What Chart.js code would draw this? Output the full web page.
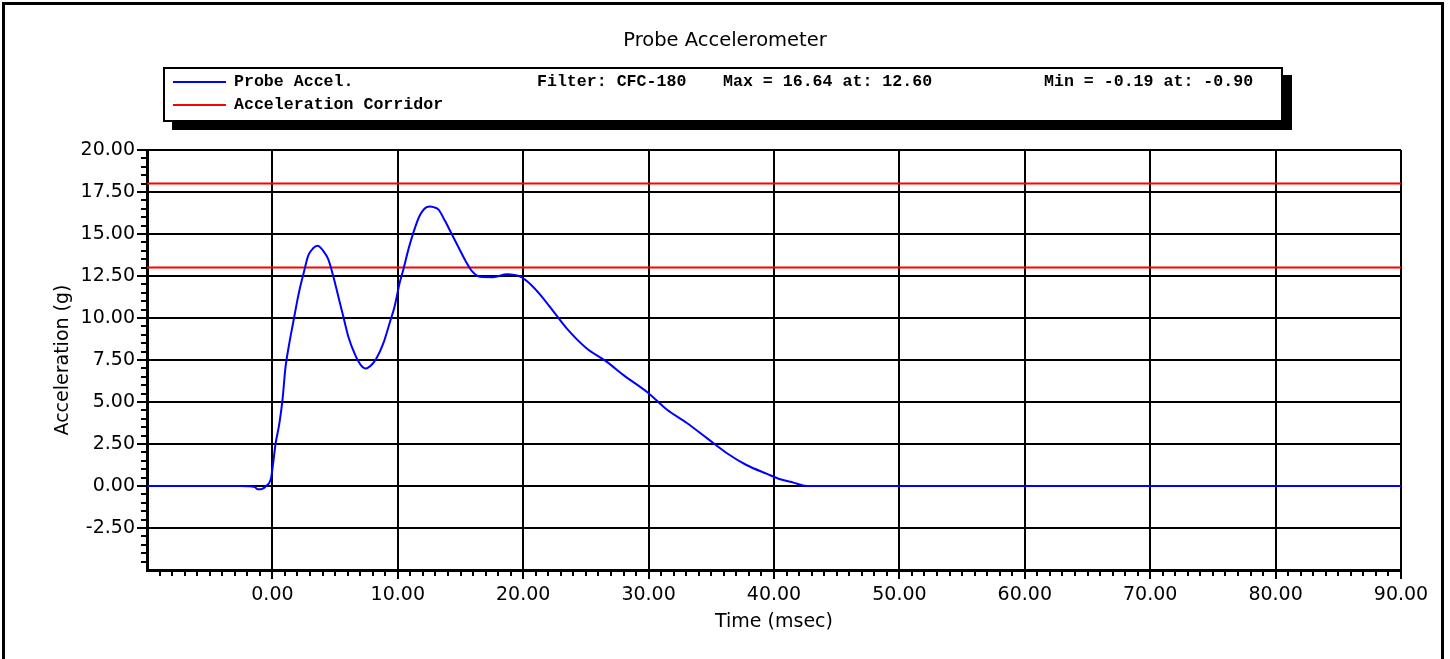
<!DOCTYPE html>
<html>
<head>
<meta charset="utf-8">
<title>Probe Accelerometer</title>
<script src="https://cdn.jsdelivr.net/npm/chart.js@4.4.1/dist/chart.umd.min.js"></script>
<style>
    body { margin: 0; background: #fff; overflow: hidden; }
    #wrap { position: relative; width: 1450px; height: 659px; }
    #frame {
        position: absolute; left: 2px; top: 2px; width: 1436px; height: 700px;
        border-left: 3px solid #000; border-top: 3px solid #000; border-right: 3px solid #000;
    }
    #legend {
        position: absolute; left: 163px; top: 67px; width: 1120px; height: 55px;
        box-sizing: border-box; border: 2px solid #000; background: #fff;
        box-shadow: 9px 8px 0 #000;
        font-family: "Liberation Mono", "Courier New", monospace; font-weight: bold;
        font-size: 16.6px; line-height: 18px; color: #000;
    }
    #legend span { position: absolute; white-space: pre; }
    #legend .swatch { position: absolute; left: 8px; width: 53px; height: 2px; }
</style>
</head>
<body>
<div id="wrap">
    <canvas id="accelChart"></canvas>
    <div id="frame"></div>
    <div id="legend">
        <div class="swatch" style="top:12px; background:#0000ff"></div>
        <span style="left:69px; top:4px">Probe Accel.</span>
        <span style="left:372px; top:4px">Filter: CFC-180</span>
        <span style="left:558px; top:4px">Max = 16.64 at: 12.60</span>
        <span style="left:879px; top:4px">Min = -0.19 at: -0.90</span>
        <div class="swatch" style="top:35px; background:#ff0000"></div>
        <span style="left:69px; top:27px">Acceleration Corridor</span>
    </div>
</div>
<script>
// Probe acceleration trace (time in msec, acceleration in g)
const timeMs = [-10, -2.6, -1.4, -1.2, -0.9, -0.5, -0.1, 0.05, 0.25, 0.55, 0.8, 1.05, 1.35, 1.65, 1.95,
    2.2, 2.5, 2.85, 3.25, 3.6, 4.05, 4.45, 4.85, 5.25, 5.65, 6.05, 6.6, 7.05, 7.45, 7.9, 8.3, 8.85,
    9.35, 9.75, 10.15, 10.45, 10.85, 11.25, 11.75, 12.3, 12.6, 12.85, 13.25, 13.75, 14.3, 14.85, 15.4,
    15.9, 16.55, 17.6, 18.7, 19.8, 20.6, 21.4, 22.5, 23.45, 25.05, 26.65, 28.0, 29.95, 31.45, 33.05,
    34.65, 36.25, 37.8, 39.45, 40.5, 41.55, 42.6, 90];
const accelG = [0, 0, -0.06, -0.19, -0.19, 0, 0.5, 1.3, 2.5, 3.7, 5.1, 7.1, 8.5, 9.7, 10.9,
    11.8, 12.7, 13.7, 14.15, 14.3, 14.0, 13.5, 12.5, 11.3, 10.1, 8.9, 7.8, 7.2, 7.0, 7.2, 7.6, 8.5,
    9.7, 10.7, 12.1, 12.9, 14.1, 15.1, 16.1, 16.6, 16.64, 16.6, 16.45, 15.8, 15.0, 14.2, 13.4,
    12.8, 12.45, 12.43, 12.6, 12.45, 12.0, 11.35, 10.3, 9.4, 8.2, 7.4, 6.6, 5.55, 4.55, 3.75,
    2.85, 1.95, 1.25, 0.72, 0.4, 0.2, 0, 0];

// Acceleration corridor limits
const corridorTime = [-10, 90];
const corridorUpper = [18, 18];
const corridorLower = [13, 13];

// Axis ranges
const xRange = [-10, 90];
const yRange = [-5, 20];

const toPoints = (xs, ys) => xs.map((x, i) => ({ x: x, y: ys[i] }));

// Short minor tick marks between the major ones
const minorTicks = {
    id: 'minorTicks',
    afterDraw(chart) {
        const { ctx, chartArea, scales } = chart;
        ctx.save();
        ctx.strokeStyle = '#000';
        ctx.lineWidth = 2;
        ctx.beginPath();
        for (let i = xRange[0] + 1; i <= xRange[1]; i++) {
            if (i % 10 === 0) continue;
            const px = Math.round(scales.x.getPixelForValue(i));
            ctx.moveTo(px, chartArea.bottom);
            ctx.lineTo(px, chartArea.bottom + 6);
        }
        for (let k = yRange[0] * 2 + 1; k <= yRange[1] * 2; k++) {
            if (k % 5 === 0) continue;
            const py = Math.round(scales.y.getPixelForValue(k / 2));
            ctx.moveTo(chartArea.left - 6, py);
            ctx.lineTo(chartArea.left, py);
        }
        ctx.stroke();
        ctx.restore();
    }
};

Chart.defaults.font.family = '"DejaVu Sans", sans-serif';
Chart.defaults.font.size = 19;
Chart.defaults.color = '#000';

// no major tick mark at the axis origin corner
const tickColorFor = low => c => (c.tick && c.tick.value <= low) ? 'rgba(0,0,0,0)' : '#000';

const ctx = document.getElementById('accelChart').getContext('2d');
new Chart(ctx, {
    type: 'line',
    data: {
        datasets: [
            {
                label: 'Probe Accel.',
                data: toPoints(timeMs, accelG),
                borderColor: '#0000ff',
                borderWidth: 2,
                cubicInterpolationMode: 'monotone'
            },
            {
                label: 'Acceleration Corridor',
                data: toPoints(corridorTime, corridorUpper),
                borderColor: '#ff0000',
                borderWidth: 2
            },
            {
                label: 'Acceleration Corridor (lower)',
                data: toPoints(corridorTime, corridorLower),
                borderColor: '#ff0000',
                borderWidth: 2
            }
        ]
    },
    options: {
        responsive: true,
        maintainAspectRatio: false,
        animation: false,
        events: [],
        layout: { padding: { left: 49, right: 49, top: 0, bottom: 0 } },
        elements: { point: { radius: 0 } },
        plugins: {
            legend: { display: false },
            tooltip: { enabled: false },
            title: {
                display: true,
                text: 'Probe Accelerometer',
                color: '#000',
                font: { size: 19.5, weight: 'normal' },
                padding: { top: 29, bottom: 97.6 }
            }
        },
        scales: {
            x: {
                type: 'linear',
                min: xRange[0],
                max: xRange[1],
                afterFit(scale) { scale.height = 89; },
                border: { display: true, color: '#000', width: 3 },
                grid: { color: '#000', lineWidth: 2, tickLength: 9, tickColor: tickColorFor(xRange[0]), tickWidth: 2 },
                ticks: {
                    stepSize: 10,
                    autoSkip: false,
                    maxRotation: 0,
                    padding: 5,
                    callback: v => v <= xRange[0] ? '' : v.toFixed(2)
                },
                title: { display: true, text: 'Time (msec)', padding: { top: 0, bottom: 25.6 } }
            },
            y: {
                type: 'linear',
                min: yRange[0],
                max: yRange[1],
                afterFit(scale) { scale.width = 98; },
                border: { display: true, color: '#000', width: 3 },
                grid: { color: '#000', lineWidth: 2, tickLength: 10, tickColor: tickColorFor(yRange[0]), tickWidth: 2 },
                ticks: {
                    stepSize: 2.5,
                    autoSkip: false,
                    padding: 2,
                    callback: v => v <= yRange[0] ? '' : v.toFixed(2)
                },
                title: { display: true, text: 'Acceleration (g)', padding: { top: 2.6, bottom: 0 } }
            }
        }
    },
    plugins: [minorTicks]
});
</script>
</body>
</html>
